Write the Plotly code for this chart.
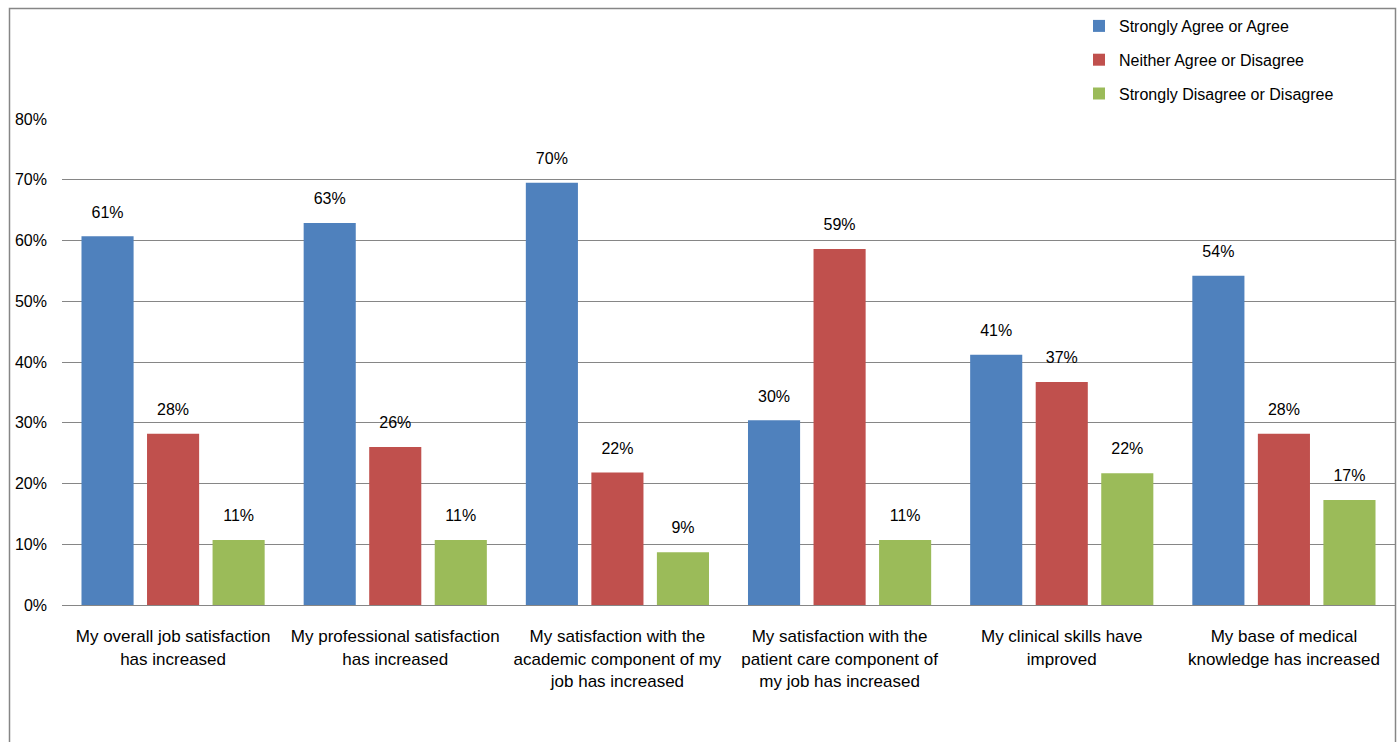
import plotly.graph_objects as go

categories = [
    "My overall job satisfaction<br>has increased",
    "My professional satisfaction<br>has increased",
    "My satisfaction with the<br>academic component of my<br>job has increased",
    "My satisfaction with the<br>patient care component of<br>my job has increased",
    "My clinical skills have<br>improved",
    "My base of medical<br>knowledge has increased",
]
agree = [0.607, 0.629, 0.695, 0.304, 0.412, 0.542]
neither = [0.282, 0.260, 0.218, 0.586, 0.367, 0.282]
disagree = [0.107, 0.107, 0.087, 0.107, 0.217, 0.173]
series_names = ["Strongly Agree or Agree", "Neither Agree or Disagree", "Strongly Disagree or Disagree"]
colors = ["#4F81BD", "#C0504D", "#9BBB59"]

FONT = "Liberation Sans, Arial, sans-serif"
GAP, GROUPGAP = 0.115, 0.205

fig = go.Figure()
for i, (name, vals, col) in enumerate(zip(series_names, [agree, neither, disagree], colors)):
    fig.add_trace(go.Bar(
        x=categories, y=vals, name=name, marker=dict(color=col, line=dict(width=0)),
        offsetgroup=str(i), legendgroup=str(i),
    ))
for i, vals in enumerate([agree, neither, disagree]):
    fig.add_trace(go.Scatter(
        x=categories, y=vals, mode="markers+text", offsetgroup=str(i),
        marker=dict(size=22, opacity=0), showlegend=False, hoverinfo="skip",
        texttemplate="%{y:.0%}", textposition="top center",
        textfont=dict(size=16, color="black", family=FONT), cliponaxis=False,
    ))

W, H = 1398, 742
L, R, T, B = 62, 3, 119, 137
pw, ph = W - L - R, H - T - B

def px(x):
    return (x - L) / pw

def py(y):
    return (H - B - y) / ph

fig.update_layout(
    width=W, height=H,
    margin=dict(l=L, r=R, t=T, b=B),
    paper_bgcolor="white", plot_bgcolor="white",
    font=dict(family=FONT, size=16, color="black"),
    barmode="group", bargap=GAP, bargroupgap=GROUPGAP,
    scattermode="group", scattergap=GAP,
    legend=dict(x=px(1079), y=py(9), xanchor="left", yanchor="top",
                font=dict(size=16, family=FONT), bgcolor="rgba(0,0,0,0)",
                itemwidth=30, tracegroupgap=10),
    showlegend=True,
    xaxis=dict(showline=True, linecolor="#868686", linewidth=1, ticks="",
               ticklabelstandoff=16,
               tickfont=dict(size=17, family=FONT), showgrid=False),
    yaxis=dict(range=[0, 0.8], dtick=0.1, tickformat=".0%", showgrid=True,
               gridcolor="#868686", gridwidth=1, zeroline=False, showline=False,
               ticklabelstandoff=14, tickfont=dict(size=16, family=FONT)),
    shapes=[dict(type="rect", xref="paper", yref="paper",
                 x0=px(9.5), x1=px(1395.5), y0=py(760), y1=py(8.5),
                 line=dict(color="#868686", width=1.5), fillcolor="rgba(0,0,0,0)", layer="below")],
)

fig.write_html("out.html", config={"displayModeBar": False},
               post_script="document.body.style.margin='0px';")
